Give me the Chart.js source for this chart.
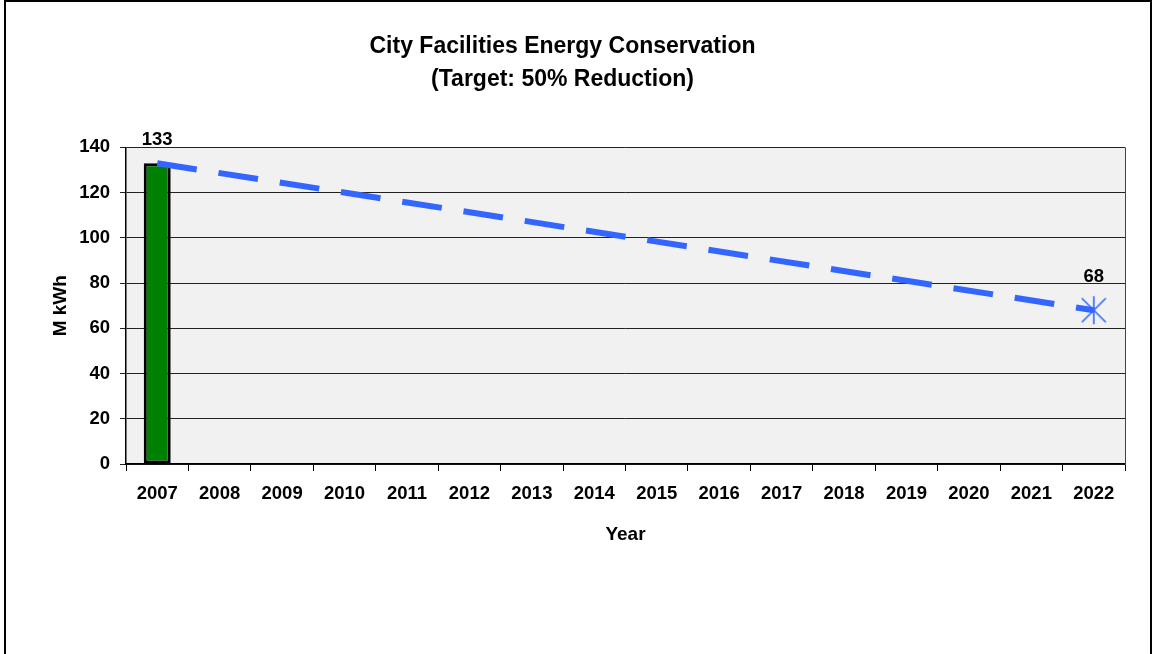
<!DOCTYPE html>
<html>
<head>
<meta charset="utf-8">
<script src="https://cdn.jsdelivr.net/npm/chart.js@4"></script>
<style>
    html, body { margin: 0; padding: 0; background: #fff; }
    #wrap { width: 1157px; height: 654px; position: relative; }
</style>
</head>
<body>
<div id="wrap"><canvas id="energy-chart" width="1157" height="654"></canvas></div>
<script>
const years = ['2007', '2008', '2009', '2010', '2011', '2012', '2013', '2014',
               '2015', '2016', '2017', '2018', '2019', '2020', '2021', '2022'];
const actualUse = [133, null, null, null, null, null, null, null,
                   null, null, null, null, null, null, null, null];
const targetPath = [133, null, null, null, null, null, null, null,
                    null, null, null, null, null, null, null, 68];
const yTicks = [0, 20, 40, 60, 80, 100, 120, 140];

const FONT = '"Liberation Sans", Arial, sans-serif';
Chart.defaults.font.family = FONT;
Chart.defaults.color = '#000';

// asterisk marker for the 2022 target
function makeStar() {
    const c = document.createElement('canvas');
    c.width = 26; c.height = 30;
    const g = c.getContext('2d');
    g.strokeStyle = '#3366ff';
    g.lineWidth = 1.6;
    g.beginPath();
    g.moveTo(13, 1); g.lineTo(13, 29);
    g.moveTo(1, 3); g.lineTo(25, 27);
    g.moveTo(1, 27); g.lineTo(25, 3);
    g.stroke();
    return c;
}
const star = makeStar();

const framePlugin = {
    id: 'frame',
    beforeDraw(chart) {
        const ctx = chart.ctx;
        const a = chart.chartArea;
        ctx.save();
        ctx.fillStyle = '#f1f1f1';
        ctx.fillRect(a.left, a.top, a.right - a.left, a.bottom - a.top);
        ctx.strokeStyle = '#000';
        ctx.lineWidth = 2;
        ctx.strokeRect(5, 1, 1146, 700);
        ctx.restore();
    },
    afterDraw(chart) {
        const ctx = chart.ctx;
        const a = chart.chartArea;
        ctx.save();
        ctx.strokeStyle = '#444';
        ctx.lineWidth = 1;
        ctx.beginPath();
        ctx.moveTo(a.right + 0.5, a.top);
        ctx.lineTo(a.right + 0.5, a.bottom);
        ctx.stroke();
        ctx.restore();
    }
};

const valueLabels = {
    id: 'valueLabels',
    afterDatasetsDraw(chart) {
        const ctx = chart.ctx;
        ctx.save();
        ctx.font = 'bold 18.5px ' + FONT;
        ctx.fillStyle = '#000';
        ctx.textAlign = 'center';
        ctx.textBaseline = 'middle';
        const bar = chart.getDatasetMeta(0).data[0];
        ctx.fillText(String(actualUse[0]), bar.x, bar.y - 23);
        const last = targetPath.length - 1;
        const pt = chart.getDatasetMeta(1).data[last];
        ctx.fillText(String(targetPath[last]), pt.x, pt.y - 33);
        ctx.restore();
    }
};

const ctx = document.getElementById('energy-chart').getContext('2d');
new Chart(ctx, {
    type: 'bar',
    data: {
        labels: years,
        datasets: [{
            label: 'Actual',
            data: actualUse,
            backgroundColor: '#008000',
            borderColor: '#000',
            borderWidth: 3,
            borderSkipped: false,
            barPercentage: 0.54,
            order: 2
        }, {
            type: 'line',
            label: 'Target',
            data: targetPath,
            spanGaps: true,
            borderColor: '#3366ff',
            borderWidth: 6,
            borderDash: [40, 22],
            borderCapStyle: 'butt',
            tension: 0,
            pointStyle: ctx2 => ctx2.dataIndex === targetPath.length - 1 ? star : 'circle',
            pointRadius: ctx2 => ctx2.dataIndex === targetPath.length - 1 ? 13 : 0,
            pointHoverRadius: 0,
            order: 1
        }]
    },
    options: {
        responsive: false,
        animation: false,
        devicePixelRatio: 1,
        layout: { padding: { left: 0, right: 32, top: 0, bottom: 0 } },
        plugins: {
            legend: { display: false },
            tooltip: { enabled: false },
            title: {
                display: true,
                text: ['City Facilities Energy Conservation', '(Target: 50% Reduction)'],
                font: { size: 23, weight: 'bold', lineHeight: 1.4 },
                color: '#000',
                padding: { top: 31, bottom: 52 }
            }
        },
        scales: {
            x: {
                offset: true,
                grid: {
                    offset: true,
                    drawOnChartArea: false,
                    drawTicks: true,
                    tickLength: 7,
                    color: '#000'
                },
                border: { color: '#000', width: 1.5 },
                ticks: {
                    font: { size: 18.5, weight: 'bold' },
                    padding: 12,
                    maxRotation: 0,
                    autoSkip: false
                },
                title: {
                    display: true,
                    text: 'Year',
                    font: { size: 19, weight: 'bold' },
                    padding: { bottom: 108 }
                },
                afterFit(scale) { scale.height = 190; }
            },
            y: {
                min: 0,
                max: 140,
                afterBuildTicks(scale) { scale.ticks = yTicks.map(v => ({ value: v })); },
                grid: {
                    color: '#222',
                    lineWidth: 1,
                    tickLength: 6
                },
                border: { color: '#000', width: 1.5 },
                ticks: {
                    font: { size: 18.5, weight: 'bold' },
                    padding: 10
                },
                title: {
                    display: true,
                    text: 'M kWh',
                    font: { size: 19, weight: 'bold' },
                    padding: { top: 49 }
                },
                afterFit(scale) { scale.width = 126; }
            }
        }
    },
    plugins: [framePlugin, valueLabels]
});
</script>
</body>
</html>
